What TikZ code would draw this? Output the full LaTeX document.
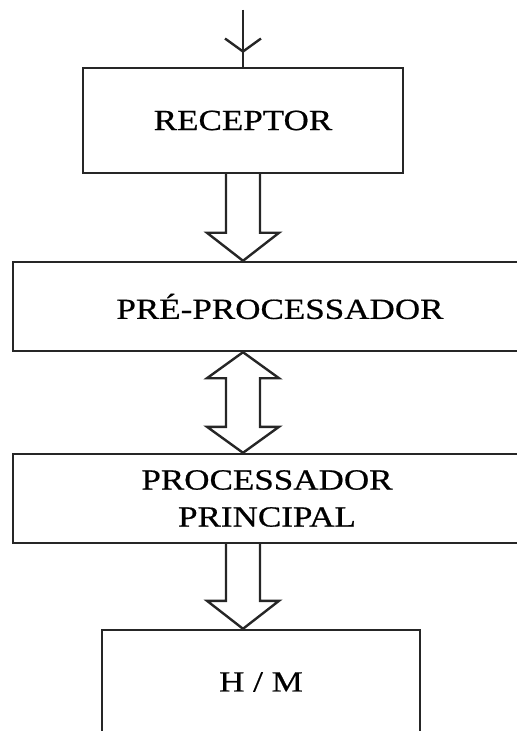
\documentclass[tikz,border=0pt]{standalone}
\usepackage{fontspec}
\setmainfont{Liberation Serif}[FakeStretch=1.2,FakeBold=0.6]
\usetikzlibrary{calc,arrows.meta}

\tikzset{
  block/.style={draw=black!85, line width=1.2pt, inner sep=0pt, align=center,
    font=\fontsize{14.6}{18.5}\selectfont},
  hollow/.style={draw=black!85, line width=1.2pt, line join=miter}
}

\begin{document}
\begin{tikzpicture}[x=0.5pt,y=-0.5pt]
\useasboundingbox (0,0) rectangle (517,731);
\clip (0,0) rectangle (517,731);

% Blocks
\node[block, minimum width=160pt, minimum height=52.5pt] (rec) at (243,120.5) {RECEPTOR};
\node[block, minimum width=267pt, minimum height=44.5pt] (pre) at (280,306.5) {PRÉ-PROCESSADOR};
\node[block, minimum width=254pt, minimum height=44.5pt] (proc) at (267,498.5) {PROCESSADOR\\PRINCIPAL};
\node[block, minimum width=159pt, minimum height=52pt] (hm) at (261,682) {H / M};

% Input
\coordinate (in) at (243,10);
\draw[black!85, line width=1.2pt, -{Straight Barb[length=6.5pt,width=18pt]}] (in) -- ++(0,43);
\draw[black!85, line width=1.2pt] (in) -- (rec.north);

% Receptor to pre-processor
\draw[hollow] ($(rec.south)+(-17,0)$) -- ($(rec.south |- pre.north)+(-17,-28)$) -- ++(-19,0)
  -- (rec.south |- pre.north) -- ++(36,-28) -- ++(-19,0) -- ($(rec.south)+(17,0)$);

% Pre-processor <-> main processor
\draw[hollow] (rec.south |- pre.south) -- ++(36,26) -- ++(-19,0)
  -- ($(rec.south |- proc.north)+(17,-26)$) -- ++(19,0) -- (rec.south |- proc.north)
  -- ++(-36,-26) -- ++(19,0) -- ($(rec.south |- pre.south)+(-17,26)$) -- ++(-19,0) -- cycle;

% Main processor to H/M
\draw[hollow] ($(rec.south |- proc.south)+(-17,0)$) -- ($(rec.south |- hm.north)+(-17,-28)$) -- ++(-19,0)
  -- (rec.south |- hm.north) -- ++(36,-28) -- ++(-19,0) -- ($(rec.south |- proc.south)+(17,0)$);

\end{tikzpicture}
\end{document}
